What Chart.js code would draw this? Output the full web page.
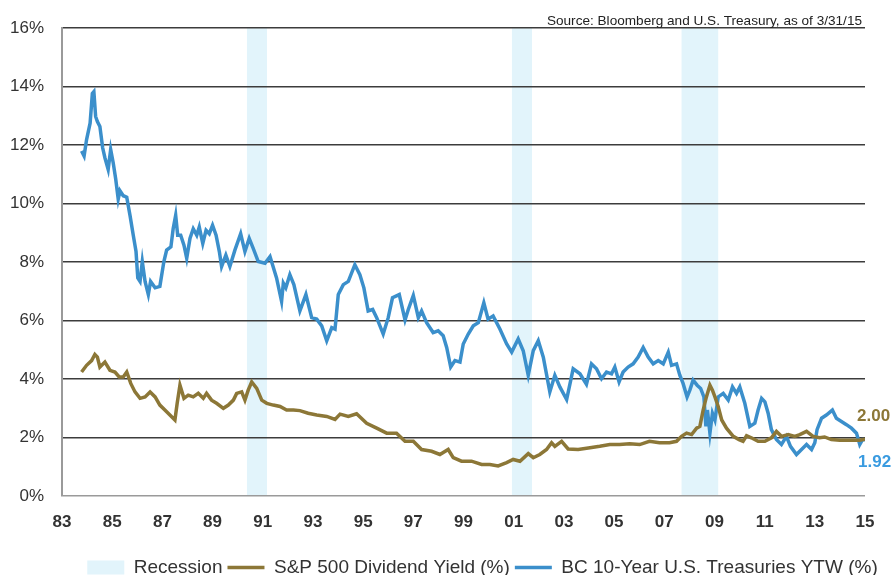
<!DOCTYPE html>
<html>
<head>
<meta charset="utf-8">
<script src="https://cdn.jsdelivr.net/npm/chart.js@4"></script>
<style>
  html, body { margin: 0; padding: 0; background: #fff; }
  #wrap { width: 896px; height: 575px; }
</style>
</head>
<body>
<div id="wrap"><canvas id="myChart" width="896" height="575"></canvas></div>
<script>
// values (x = decimal year, y = %)
const tsyYears = [
  1983.78, 1983.88, 1983.98, 1984.12, 1984.21, 1984.27, 1984.34, 1984.41, 1984.51, 1984.62,
  1984.71, 1984.84, 1984.94, 1985.04, 1985.14, 1985.24, 1985.31, 1985.44, 1985.58, 1985.71,
  1985.84, 1985.95, 1986.02, 1986.11, 1986.20, 1986.31, 1986.44, 1986.53, 1986.71, 1986.90,
  1987.06, 1987.17, 1987.34, 1987.43, 1987.53, 1987.61, 1987.73, 1987.86, 1987.97, 1988.10,
  1988.23, 1988.37, 1988.47, 1988.61, 1988.74, 1988.87, 1989.00, 1989.14, 1989.27, 1989.36,
  1989.53, 1989.69, 1989.89, 1990.12, 1990.29, 1990.46, 1990.62, 1990.82, 1991.09, 1991.29,
  1991.55, 1991.75, 1991.82, 1991.92, 1992.08, 1992.24, 1992.48, 1992.72, 1992.95, 1993.15,
  1993.35, 1993.55, 1993.75, 1993.88, 1994.01, 1994.21, 1994.41, 1994.67, 1994.87, 1995.03,
  1995.20, 1995.38, 1995.54, 1995.80, 1996.00, 1996.17, 1996.44, 1996.67, 1996.80, 1997.00,
  1997.20, 1997.33, 1997.53, 1997.79, 1997.99, 1998.19, 1998.33, 1998.49, 1998.66, 1998.86,
  1998.99, 1999.19, 1999.39, 1999.59, 1999.81, 1999.98, 2000.18, 2000.45, 2000.72, 2000.92,
  2001.18, 2001.38, 2001.58, 2001.78, 2001.98, 2002.18, 2002.44, 2002.64, 2002.84, 2003.11,
  2003.37, 2003.64, 2003.90, 2004.10, 2004.30, 2004.50, 2004.70, 2004.90, 2005.03, 2005.20,
  2005.36, 2005.56, 2005.76, 2005.96, 2006.16, 2006.36, 2006.56, 2006.76, 2006.96, 2007.16,
  2007.29, 2007.49, 2007.62, 2007.75, 2007.91, 2008.02, 2008.15, 2008.31, 2008.45, 2008.58,
  2008.66, 2008.72, 2008.82, 2008.92, 2009.02, 2009.15, 2009.35, 2009.55, 2009.72, 2009.88,
  2010.01, 2010.21, 2010.41, 2010.61, 2010.74, 2010.88, 2011.01, 2011.14, 2011.27, 2011.47,
  2011.67, 2011.87, 2012.03, 2012.27, 2012.47, 2012.67, 2012.87, 2013.00, 2013.09, 2013.27,
  2013.46, 2013.70, 2013.86, 2014.06, 2014.26, 2014.46, 2014.66, 2014.79, 2014.90, 2015.00
];
const tsyValues = [
  11.80, 11.63, 12.19, 12.75, 13.77, 13.83, 12.98, 12.81, 12.64, 11.91,
  11.57, 11.17, 11.85, 11.40, 10.84, 10.16, 10.44, 10.27, 10.22, 9.60,
  8.92, 8.36, 7.46, 7.34, 8.02, 7.34, 6.89, 7.34, 7.12, 7.17,
  8.02, 8.41, 8.52, 9.14, 9.60, 8.92, 8.92, 8.58, 8.13, 8.81,
  9.14, 8.92, 9.20, 8.64, 9.09, 8.97, 9.26, 8.92, 8.36, 7.85,
  8.24, 7.85, 8.41, 8.97, 8.36, 8.81, 8.47, 8.02, 7.96, 8.19,
  7.46, 6.66, 7.28, 7.12, 7.57, 7.23, 6.33, 6.89, 6.10, 6.05,
  5.82, 5.31, 5.76, 5.71, 6.89, 7.23, 7.34, 7.91, 7.57, 7.12,
  6.33, 6.38, 6.10, 5.54, 6.10, 6.78, 6.89, 6.02, 6.38, 6.86,
  6.10, 6.33, 5.93, 5.59, 5.65, 5.48, 5.08, 4.41, 4.63, 4.58,
  5.20, 5.54, 5.82, 5.93, 6.61, 6.05, 6.16, 5.71, 5.20, 4.92,
  5.37, 4.97, 4.13, 4.97, 5.31, 4.75, 3.56, 4.13, 3.73, 3.30,
  4.35, 4.18, 3.82, 4.52, 4.35, 4.01, 4.24, 4.18, 4.41, 3.90,
  4.24, 4.41, 4.52, 4.75, 5.08, 4.75, 4.52, 4.63, 4.52, 4.92,
  4.47, 4.52, 4.13, 3.85, 3.39, 3.62, 3.96, 3.79, 3.68, 3.39,
  2.38, 2.94, 2.15, 2.83, 2.60, 3.39, 3.51, 3.28, 3.73, 3.51,
  3.73, 3.17, 2.38, 2.49, 2.94, 3.34, 3.22, 2.83, 2.27, 1.93,
  1.76, 2.04, 1.70, 1.42, 1.59, 1.76, 1.59, 1.82, 2.27, 2.66,
  2.77, 2.94, 2.66, 2.55, 2.44, 2.32, 2.15, 1.76, 1.93, 1.92
];

const divYears = [
  1983.78, 1983.98, 1984.18, 1984.31, 1984.41, 1984.51, 1984.71, 1984.91, 1985.11, 1985.28,
  1985.44, 1985.58, 1985.74, 1985.91, 1986.11, 1986.31, 1986.51, 1986.71, 1986.90, 1987.10,
  1987.30, 1987.50, 1987.59, 1987.70, 1987.86, 1988.03, 1988.23, 1988.43, 1988.63, 1988.76,
  1988.96, 1989.16, 1989.43, 1989.63, 1989.83, 1989.96, 1990.16, 1990.29, 1990.42, 1990.56,
  1990.76, 1990.96, 1991.16, 1991.42, 1991.69, 1991.95, 1992.22, 1992.48, 1992.81, 1993.15,
  1993.55, 1993.88, 1994.08, 1994.41, 1994.74, 1995.14, 1995.54, 1995.94, 1996.33, 1996.67,
  1997.00, 1997.33, 1997.73, 1998.06, 1998.39, 1998.59, 1998.92, 1999.32, 1999.72, 2000.05,
  2000.38, 2000.72, 2000.98, 2001.25, 2001.58, 2001.78, 2002.04, 2002.31, 2002.51, 2002.64,
  2002.91, 2003.17, 2003.57, 2004.04, 2004.43, 2004.83, 2005.22, 2005.62, 2006.02, 2006.41,
  2006.81, 2007.21, 2007.49, 2007.69, 2007.89, 2008.09, 2008.29, 2008.42, 2008.55, 2008.68,
  2008.82, 2008.92, 2009.02, 2009.15, 2009.29, 2009.48, 2009.75, 2009.98, 2010.14, 2010.28,
  2010.47, 2010.74, 2011.01, 2011.27, 2011.47, 2011.67, 2011.94, 2012.20, 2012.40, 2012.67,
  2012.93, 2013.19, 2013.39, 2013.66, 2013.99, 2014.38, 2014.78, 2015.00
];
const divValues = [
  4.24, 4.47, 4.63, 4.84, 4.75, 4.41, 4.58, 4.30, 4.24, 4.07,
  4.07, 4.24, 3.85, 3.56, 3.34, 3.39, 3.56, 3.39, 3.11, 2.94,
  2.77, 2.60, 3.17, 3.79, 3.34, 3.45, 3.39, 3.51, 3.34, 3.51,
  3.28, 3.17, 3.00, 3.11, 3.28, 3.51, 3.56, 3.28, 3.62, 3.90,
  3.68, 3.28, 3.17, 3.11, 3.06, 2.94, 2.94, 2.92, 2.83, 2.77,
  2.72, 2.62, 2.80, 2.72, 2.81, 2.49, 2.32, 2.15, 2.15, 1.87,
  1.87, 1.59, 1.53, 1.42, 1.59, 1.31, 1.19, 1.19, 1.08, 1.08,
  1.03, 1.14, 1.25, 1.19, 1.45, 1.31, 1.42, 1.59, 1.82, 1.70,
  1.87, 1.61, 1.59, 1.65, 1.70, 1.76, 1.76, 1.79, 1.76, 1.87,
  1.82, 1.82, 1.87, 2.04, 2.15, 2.10, 2.32, 2.38, 2.94, 3.39,
  3.79, 3.62, 3.39, 3.06, 2.60, 2.32, 2.04, 1.93, 1.87, 2.06,
  1.99, 1.87, 1.87, 1.99, 2.21, 2.04, 2.10, 2.04, 2.10, 2.21,
  2.04, 1.99, 2.02, 1.93, 1.91, 1.91, 1.91, 1.94
];

const recessionStart = [1990.37, 2000.93, 2007.69];
const recessionEnd = [1991.17, 2001.73, 2009.15];

const endLabels = ["2.00", "1.92"];
const sourceNote = "Source: Bloomberg and U.S. Treasury, as of 3/31/15";

const BLUE = "#3b8fcb";
const BROWN = "#8c7737";
const BAND = "#e2f4fb";
const FONT = "'Liberation Sans', Arial, sans-serif";

const toPoints = (xs, ys) => xs.map((x, i) => ({ x, y: ys[i] }));

// shaded recession bands, behind the grid
const recessionBands = {
  id: "recessionBands",
  beforeDraw(chart) {
    const { ctx, chartArea, scales } = chart;
    ctx.save();
    ctx.fillStyle = BAND;
    recessionStart.forEach((s, i) => {
      const x0 = scales.x.getPixelForValue(s);
      const x1 = scales.x.getPixelForValue(recessionEnd[i]);
      ctx.fillRect(x0, chartArea.top, x1 - x0, chartArea.bottom - chartArea.top);
    });
    ctx.restore();
  },
};

// legend sits right of centre in the original
const legendShift = {
  id: "legendShift",
  afterLayout(chart) {
    const lg = chart.legend;
    lg.left += 50;
    lg.right += 50;
    lg.top += 2;
    lg.bottom += 2;
  },
};

// source note + end-of-line value labels
const extras = {
  id: "extras",
  afterDatasetsDraw(chart) {
    const { ctx, chartArea } = chart;
    ctx.save();
    ctx.font = "13.6px " + FONT;
    ctx.fillStyle = "#222";
    ctx.textAlign = "right";
    ctx.textBaseline = "middle";
    ctx.fillText(sourceNote, chartArea.right - 3, chartArea.top - 7);

    ctx.font = "bold 17px " + FONT;
    ctx.textAlign = "left";
    const lastDiv = chart.getDatasetMeta(1).data.at(-1);
    const lastTsy = chart.getDatasetMeta(2).data.at(-1);
    ctx.fillStyle = BROWN;
    ctx.fillText(endLabels[0], lastDiv.x - 8, lastDiv.y - 23);
    ctx.fillStyle = "#3a9be0";
    ctx.fillText(endLabels[1], lastTsy.x - 7, lastTsy.y + 22);
    ctx.restore();
  },
};

const ctx = document.querySelector("#myChart").getContext("2d");

const data = {
  datasets: [
    {
      label: "Recession",
      data: [],
      backgroundColor: BAND,
      borderColor: BAND,
      borderWidth: 0,
      pointStyle: "rect",
    },
    {
      label: "S&P 500 Dividend Yield (%)",
      data: toPoints(divYears, divValues),
      borderColor: BROWN,
      backgroundColor: BROWN,
      borderWidth: 3.5,
      pointRadius: 0,
      pointStyle: "line",
      tension: 0,
    },
    {
      label: "BC 10-Year U.S. Treasuries YTW (%)",
      data: toPoints(tsyYears, tsyValues),
      borderColor: BLUE,
      backgroundColor: BLUE,
      borderWidth: 3.5,
      pointRadius: 0,
      pointStyle: "line",
      tension: 0,
    },
  ],
};

const config = {
  type: "line",
  data,
  options: {
    responsive: false,
    animation: false,
    layout: { padding: { left: 0, right: 31, top: 24, bottom: -10 } },
    plugins: {
      tooltip: { enabled: false },
      legend: {
        position: "bottom",
        labels: {
          usePointStyle: true,
          pointStyleWidth: 37,
          boxHeight: 14,
          padding: 5,
          color: "#333",
          font: { family: FONT, size: 19 },
        },
      },
    },
    scales: {
      x: {
        type: "linear",
        min: 1983,
        max: 2015,
        grid: { display: false, drawTicks: false },
        border: { display: false },
        ticks: {
          stepSize: 2,
          padding: 16,
          maxRotation: 0,
          color: "#333",
          font: { family: FONT, size: 17, weight: "bold" },
          callback: (val) => String(val % 100).padStart(2, "0"),
        },
        afterFit: (s) => { s.height = 55; },
      },
      y: {
        min: 0,
        max: 16,
        grid: {
          drawTicks: false,
          lineWidth: 1.6,
          color: (c) => (c.tick && c.tick.value === 0 ? "#9a9a9a" : "#3c3c3c"),
        },
        border: { color: "#9a9a9a", width: 2 },
        ticks: {
          stepSize: 2,
          padding: 18,
          color: "#333",
          font: { family: FONT, size: 17 },
          callback: (val) => `${val}%`,
        },
        afterFit: (s) => { s.width = 62; },
      },
    },
  },
  plugins: [recessionBands, legendShift, extras],
};

const myChart = new Chart(ctx, config);
</script>
</body>
</html>
